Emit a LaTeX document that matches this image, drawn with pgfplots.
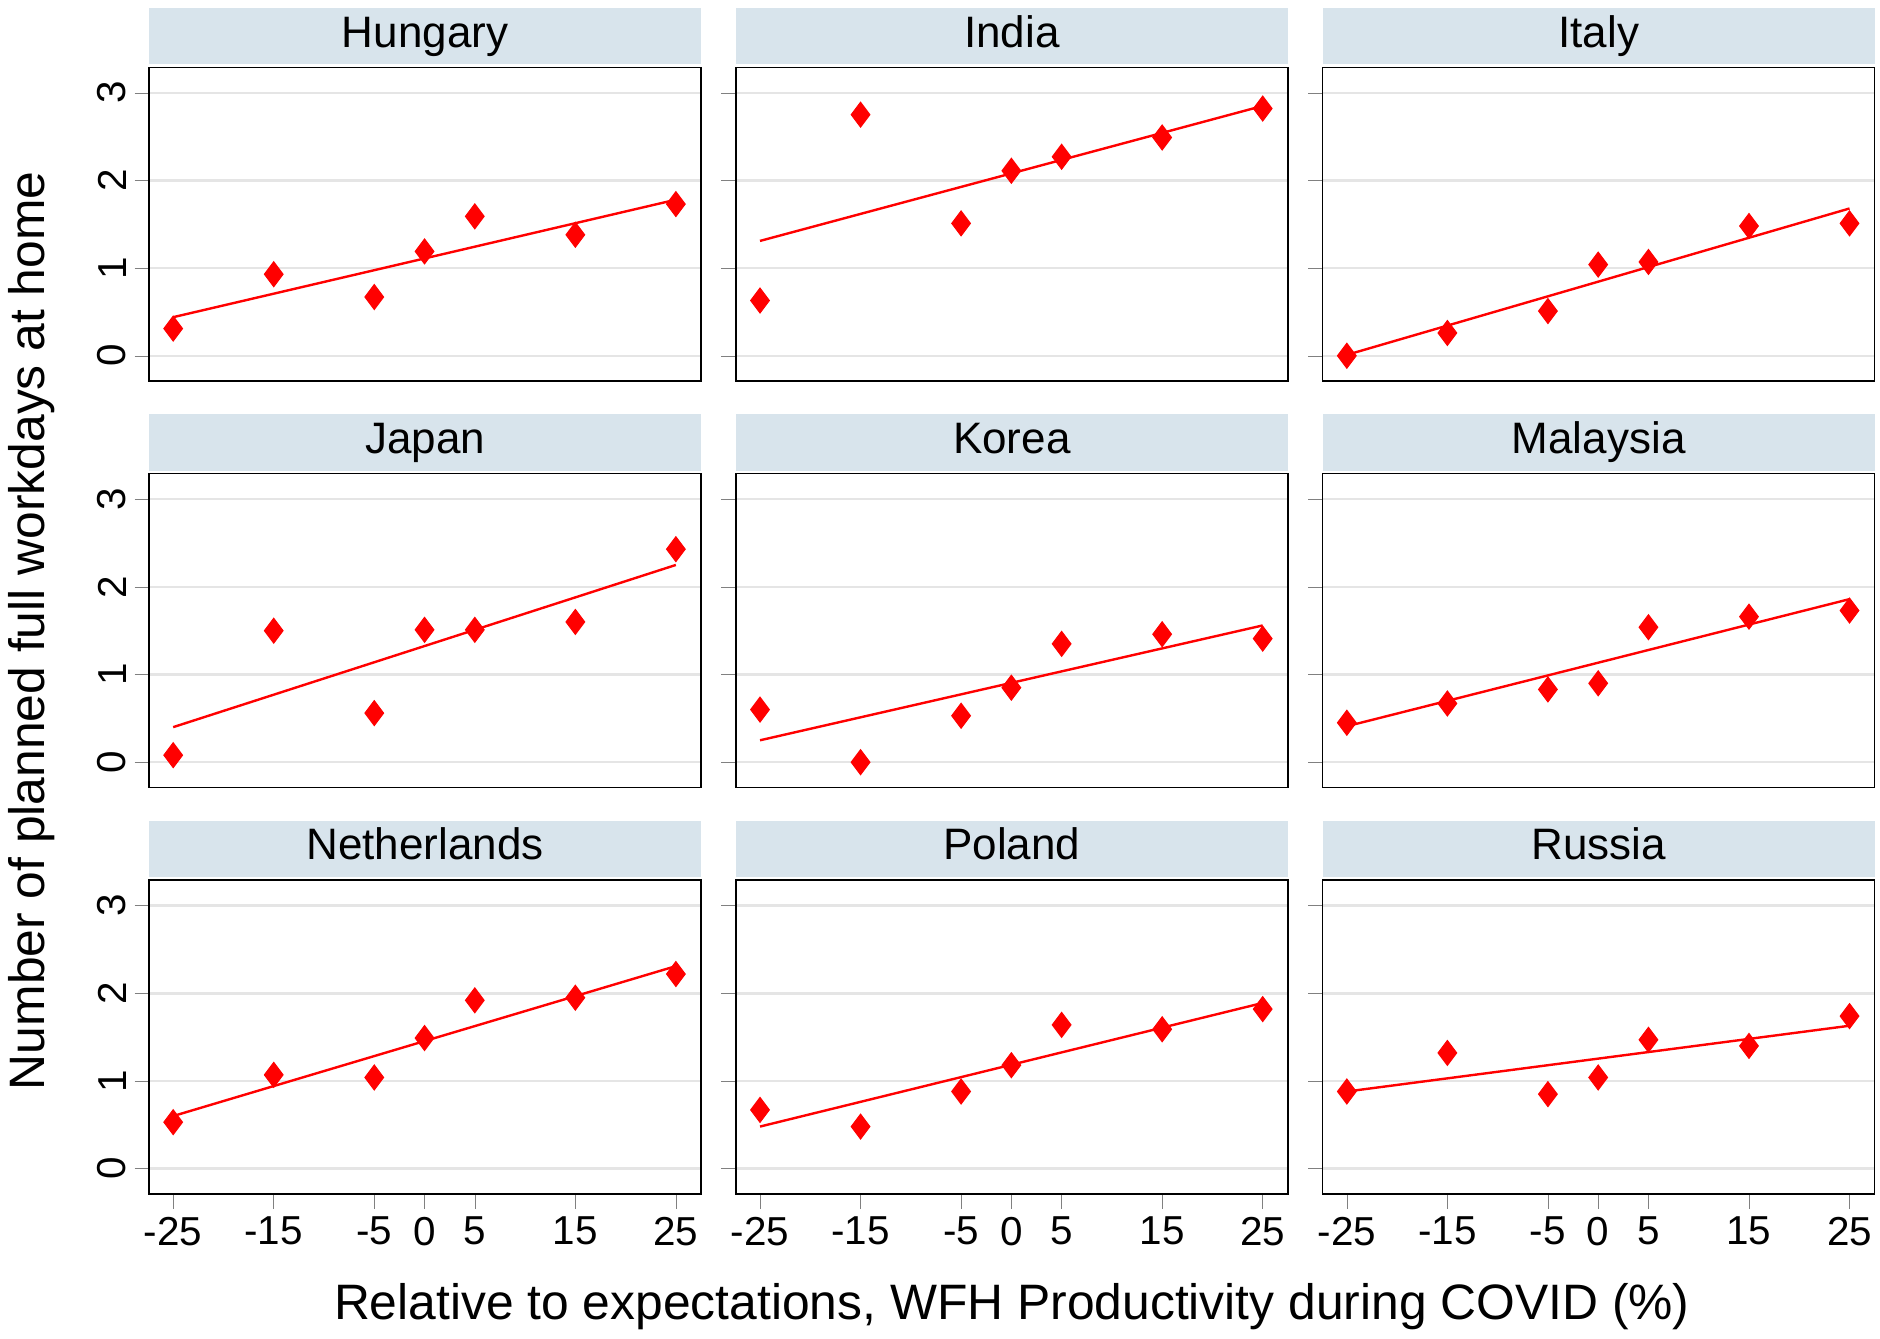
\documentclass[border=0pt]{standalone}
\usepackage{fontspec}
\setmainfont{Liberation Sans}
\usepackage{pgfplots}
\pgfplotsset{compat=1.18}
\usepgfplotslibrary{groupplots}
\definecolor{strip}{RGB}{216,228,236}
\begin{document}
\begin{tikzpicture}
\pgfplotsset{every axis/.append style={
  width=229.5pt,height=130.5pt,scale only axis,
  xmin=-27.4,xmax=27.5,ymin=-0.29,ymax=3.29,
  xtick={-25,-15,-5,0,5,15,25},ytick={0,1,2,3},
  ymajorgrids,grid style={gray!20,line width=1pt},
  tick align=outside,xtick pos=bottom,ytick pos=left,
  major tick length=6pt,
  /pgf/number format/assume math mode=true,
  tick label style={font=\fontsize{16.8}{16.8}\selectfont},
  yticklabel style={rotate=90,anchor=south},
  axis line style={line width=0.6pt},
  title style={at={(0.5,1)},anchor=south,fill=strip,minimum width=229.5pt,text height=13pt,text depth=4pt,inner xsep=0pt,inner ysep=3.25pt,yshift=-5pt,font=\fontsize{18.3}{18.3}\selectfont},
  },
  pts/.style={only marks,mark=diamond*,mark size=5.2pt,color=red},
  fit/.style={no marks,color=red,line width=1pt}}
\begin{groupplot}[group style={group size=3 by 3,horizontal sep=14.5pt,vertical sep=38.5pt,xticklabels at=edge bottom,yticklabels at=edge left}]
\nextgroupplot[title=Hungary,xmajorticks=false]
\addplot[pts] coordinates {(-25,0.31)(-15,0.93)(-5,0.67)(0,1.19)(5,1.59)(15,1.38)(25,1.73)};
\addplot[fit] coordinates {(-25,0.44)(25,1.78)};
\nextgroupplot[title=India,xmajorticks=false]
\addplot[pts] coordinates {(-25,0.63)(-15,2.75)(-5,1.51)(0,2.11)(5,2.27)(15,2.49)(25,2.82)};
\addplot[fit] coordinates {(-25,1.31)(25,2.85)};
\nextgroupplot[title=Italy,xmajorticks=false]
\addplot[pts] coordinates {(-25,0)(-15,0.26)(-5,0.51)(0,1.04)(5,1.07)(15,1.48)(25,1.51)};
\addplot[fit] coordinates {(-25,0.01)(25,1.68)};
\nextgroupplot[title=Japan,xmajorticks=false]
\addplot[pts] coordinates {(-25,0.08)(-15,1.5)(-5,0.56)(0,1.51)(5,1.51)(15,1.6)(25,2.43)};
\addplot[fit] coordinates {(-25,0.4)(25,2.25)};
\nextgroupplot[title=Korea,xmajorticks=false]
\addplot[pts] coordinates {(-25,0.6)(-15,0)(-5,0.53)(0,0.85)(5,1.35)(15,1.46)(25,1.41)};
\addplot[fit] coordinates {(-25,0.25)(25,1.56)};
\nextgroupplot[title=Malaysia,xmajorticks=false]
\addplot[pts] coordinates {(-25,0.45)(-15,0.67)(-5,0.83)(0,0.9)(5,1.54)(15,1.66)(25,1.73)};
\addplot[fit] coordinates {(-25,0.41)(25,1.86)};
\nextgroupplot[title=Netherlands]
\addplot[pts] coordinates {(-25,0.53)(-15,1.07)(-5,1.04)(0,1.49)(5,1.92)(15,1.95)(25,2.22)};
\addplot[fit] coordinates {(-25,0.6)(25,2.31)};
\nextgroupplot[title=Poland]
\addplot[pts] coordinates {(-25,0.67)(-15,0.48)(-5,0.88)(0,1.18)(5,1.64)(15,1.59)(25,1.82)};
\addplot[fit] coordinates {(-25,0.48)(25,1.89)};
\nextgroupplot[title=Russia]
\addplot[pts] coordinates {(-25,0.88)(-15,1.32)(-5,0.85)(0,1.04)(5,1.47)(15,1.4)(25,1.74)};
\addplot[fit] coordinates {(-25,0.88)(25,1.63)};
\end{groupplot}
\path ([yshift=28pt]group c1r1.north) coordinate (topmargin);
\node[rotate=90,font=\fontsize{20.7}{20.7}\selectfont] at ([xshift=-49pt]group c1r2.west) {Number of planned full workdays at home};
\node[font=\fontsize{20.7}{20.7}\selectfont] at ([yshift=-47pt]group c2r3.south) {Relative to expectations, WFH Productivity during COVID (\%)};
\end{tikzpicture}
\end{document}
